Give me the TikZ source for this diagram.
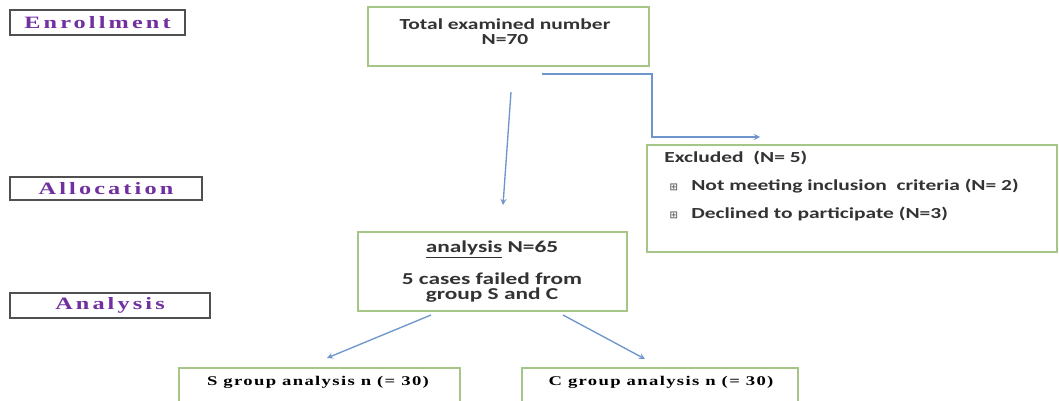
\documentclass[tikz,border=0pt]{standalone}
\usepackage{fontspec}
\newfontfamily\calfont[FakeStretch=1.4]{Carlito}
\newfontfamily\serfont[FakeStretch=1.4,LetterSpace=10]{Liberation Serif}
\newfontfamily\labfont[FakeStretch=1.4,LetterSpace=18]{Liberation Serif}
\newfontfamily\symfont{DejaVu Sans}
\newcommand{\sqbul}{\hspace{4pt}{\symfont\fontsize{7.5}{7.5}\selectfont\color{black!60}⊞}\hspace{10pt}}
\definecolor{stagepurple}{HTML}{7030A0}
\definecolor{stagegray}{HTML}{505050}
\definecolor{boxgreen}{RGB}{165,198,135}
\definecolor{arrowblue}{RGB}{110,150,205}
\tikzset{
  stage/.style={draw=stagegray, line width=1.2pt, inner sep=0pt, text=stagepurple,
    font=\labfont\bfseries\fontsize{13}{15}\selectfont},
  grbox/.style={draw=boxgreen, line width=0.9pt, inner sep=0pt},
  boxtxt/.style={font=\calfont\bfseries\fontsize{11.5}{11.25}\selectfont, text=black!80, align=center, inner sep=0pt},
  grptxt/.style={font=\serfont\bfseries\fontsize{10}{12}\selectfont, inner sep=0pt},
  flow/.style={->, arrowblue, line width=1pt}
}
\begin{document}
\begin{tikzpicture}[>=stealth, x=0.75pt, y=-0.75pt]
\clip (0,0) rectangle (1059,400);
\fill[white] (0,0) rectangle (1059,400);
\foreach \name/\txt/\x/\y/\w/\h in {enrol/Enrollment/97.5/22.5/131.25/18.75,
  alloc/Allocation/106/188.5/144/17.25, anal/Analysis/110/305.5/150/18.75}
  \node[stage, minimum width=\w pt, minimum height=\h pt] (\name) at (\x,\y) {\txt};
\node[grbox, minimum width=210.75pt, minimum height=44.25pt] (total) at (508.5,36.5) {};
\node[boxtxt, anchor=north] (totaltxt) at (505,18) {Total examined number\\N=70};
\node[grbox, minimum width=307.5pt, minimum height=80.25pt] (excl) at (852,198.5) {};
\node[boxtxt, align=left, anchor=north west, font=\calfont\bfseries\fontsize{11.5}{21}\selectfont]
  (excltxt) at (664,151) {Excluded\ \ (N= 5)\\
  \sqbul Not meeting inclusion\ \ criteria (N= 2)\\
  \sqbul Declined to participate (N=3)};
\node[grbox, minimum width=201.75pt, minimum height=59.25pt] (n65) at (492.5,271.5) {};
\node[boxtxt, font=\calfont\bfseries\fontsize{12.5}{11.5}\selectfont] (n65txt) at (492,272)
  {\underline{analysis} N=65\\[10pt]5 cases failed from\\group S and C};
\node[grbox, minimum width=210.75pt, minimum height=31.5pt] (sgrp) at (319.5,389) {};
\node[grptxt] (sgrptxt) at (318,382) {S group analysis n (= 30)};
\node[grbox, minimum width=207pt, minimum height=31.5pt] (cgrp) at (660,389) {};
\node[grptxt] (cgrptxt) at (661,382) {C group analysis n (= 30)};
\coordinate (d1) at (511,92); \coordinate (d2) at (503,205);
\coordinate (e1) at (542,74); \coordinate (e2) at (652,137); \coordinate (e3) at (760,137);
\coordinate (l1) at (431,315); \coordinate (l2) at (327,358);
\coordinate (r1) at (563,315); \coordinate (r2) at (645,359);
\draw[flow] (d1) -- (d2);
\draw[flow] (e1) -| (e2) -- (e3);
\draw[flow] (l1) -- (l2);
\draw[flow] (r1) -- (r2);
\end{tikzpicture}
\end{document}
